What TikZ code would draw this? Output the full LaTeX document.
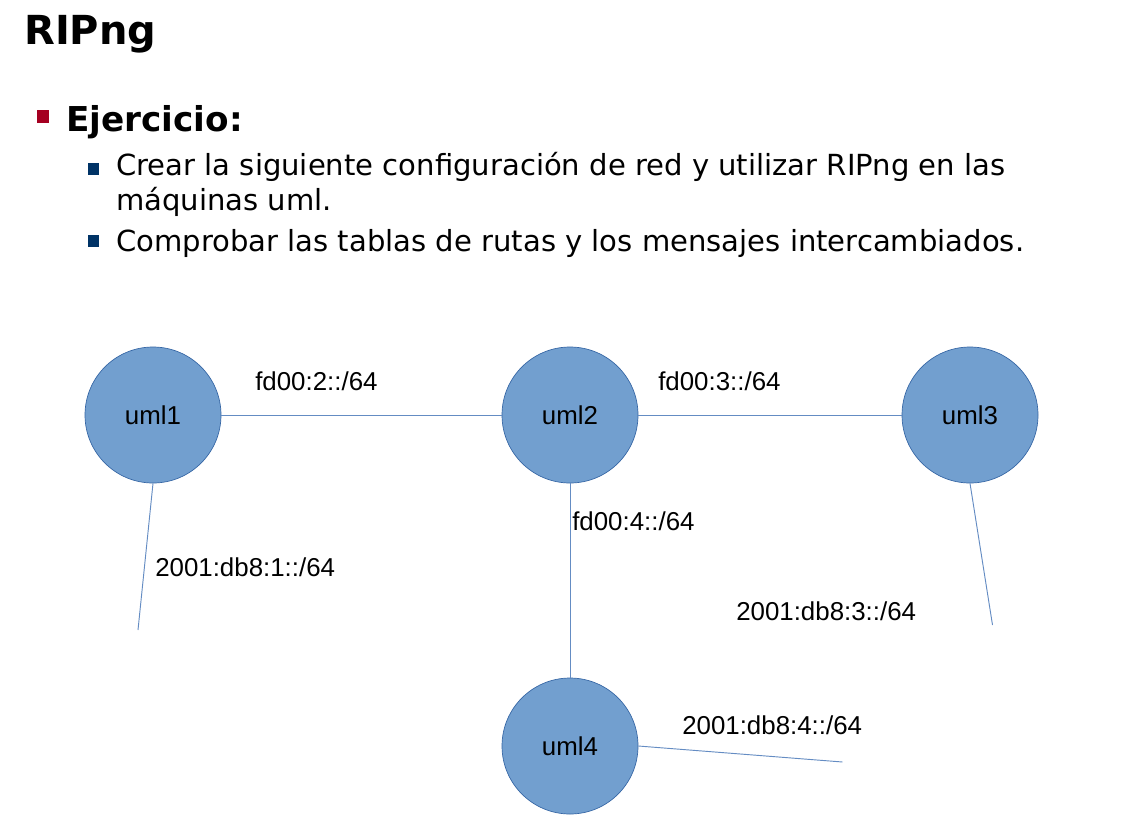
\documentclass[tikz,border=0pt]{standalone}
\usepackage{fontspec}
\setmainfont{DejaVu Sans}
\newfontfamily\netfont{Liberation Sans}
\usepackage{tikz}
\usetikzlibrary{positioning}
\definecolor{hostfill}{RGB}{114,159,207}
\definecolor{hostdraw}{RGB}{52,101,164}
\definecolor{linkblue}{RGB}{100,140,195}
\definecolor{bulletred}{RGB}{165,0,33}
\definecolor{bulletblue}{RGB}{0,51,102}
\tikzset{
  hostnode/.style={circle,fill=hostfill,draw=hostdraw,line width=0.5pt,minimum size=102pt,inner sep=0pt,font=\netfont\fontsize{19.4}{22}\selectfont},
  netlabel/.style={anchor=base west,inner sep=0pt,font=\netfont\fontsize{19.4}{22}\selectfont},
  link/.style={draw=linkblue,line width=0.7pt},
  titletext/.style={anchor=base west,inner sep=0pt,font=\fontsize{30}{36}\selectfont\bfseries},
  headtext/.style={anchor=base west,inner sep=0pt,font=\fontsize{25.7}{31}\selectfont\bfseries},
  itemtext/.style={anchor=base west,inner sep=0pt,font=\fontsize{21.8}{26}\selectfont}
}

\begin{document}
\begin{tikzpicture}[x=0.75pt,y=-0.75pt]
  \useasboundingbox[fill=white] (0,0) rectangle (1137,817);

  % heading and bullets
  \node[titletext] (title) at (24,45) {RIPng};
  \fill[bulletred] (37,110) rectangle (49,122.5);
  \node[headtext] (head) at (66,131.5) {Ejercicio:};
  \fill[bulletblue] (87.5,163) rectangle (98.5,175);
  \node[itemtext] (item1) at (116,175) {Crear la siguiente configuración de red y utilizar RIPng en las};
  \node[itemtext] (item1b) at (116,210) {máquinas uml.};
  \fill[bulletblue] (87.5,235) rectangle (98.5,247);
  \node[itemtext] (item2) at (116,251.5) {Comprobar las tablas de rutas y los mensajes intercambiados.};

  % hosts
  \node[hostnode] (uml1) at (153,415) {uml1};
  \node[hostnode] (uml2) at (570,415) {uml2};
  \node[hostnode] (uml3) at (970,415) {uml3};
  \node[hostnode] (uml4) at (570,746) {uml4};

  \coordinate (lan1) at (138,630);
  \coordinate (lan3) at (992.5,625);
  \coordinate (lan4) at (842.5,762);

  % links
  \draw[link] (uml1) -- (uml2);
  \draw[link] (uml2) -- (uml3);
  \draw[link] (uml2) -- (uml4);
  \draw[link] (uml1.south) -- (lan1);
  \draw[link] (uml3.south) -- (lan3);
  \draw[link] (uml4.east) -- (lan4);

  % prefixes
  \node[netlabel] (net2) at (255,390) {fd00:2::/64};
  \node[netlabel] (net3) at (658,390) {fd00:3::/64};
  \node[netlabel] (net4) at (572,530) {fd00:4::/64};
  \node[netlabel] (pfx1) at (155,576) {2001:db8:1::/64};
  \node[netlabel] (pfx3) at (736,620.5) {2001:db8:3::/64};
  \node[netlabel] (pfx4) at (682,734) {2001:db8:4::/64};
\end{tikzpicture}
\end{document}
